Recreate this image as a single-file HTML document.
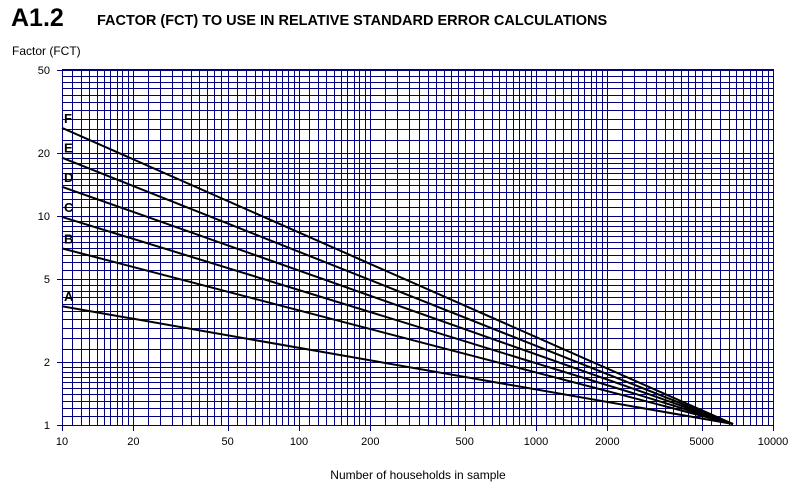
<!DOCTYPE html>
<html><head><meta charset="utf-8"><style>
html,body{margin:0;padding:0;background:#fff;width:802px;height:496px;overflow:hidden}
svg{display:block;font-family:"Liberation Sans",Arial,sans-serif}
</style></head><body>
<svg id="s" width="802" height="496" xmlns="http://www.w3.org/2000/svg">
<text x="11" y="26" font-size="25" font-weight="bold">A1.2</text>
<text x="97" y="25" font-size="14.5" font-weight="bold">FACTOR (FCT) TO USE IN RELATIVE STANDARD ERROR CALCULATIONS</text>
<text x="12" y="55" font-size="12">Factor (FCT)</text>
<text x="418" y="479" font-size="12" text-anchor="middle">Number of households in sample</text>
<g id="g"></g>
</svg>
<script>
var X0=62,XD=237,Y0=425,YD=209;
function px(v){return X0+XD*Math.log10(v/10);}
function py(v){return Y0-YD*Math.log10(v);}
function mult(){var a=[];for(var i=10;i<20;i++)a.push(i/10);for(var i=0;i<10;i++)a.push(2+0.3*i);for(var i=0;i<10;i++)a.push(5+0.5*i);return a;}
var m=mult(),h='<g shape-rendering="crispEdges" stroke="#000080" stroke-width="1">';
for(var d=0;d<3;d++)m.forEach(function(k){var x=Math.round(px(10*Math.pow(10,d)*k))+0.5;h+='<line x1="'+x+'" y1="69" x2="'+x+'" y2="425"/>';});
h+='<line x1="773.5" y1="69" x2="773.5" y2="425"/>';
m.forEach(function(k){[1,10].forEach(function(d){var v=k*d;if(v>50)return;var y=Math.round(py(v))+0.5;h+='<line x1="62" y1="'+y+'" x2="773" y2="'+y+'"/>';});});
h+='<line x1="62" y1="69.5" x2="773" y2="69.5"/>';
h+='<line x1="62.5" y1="69" x2="62.5" y2="430"/>';
[[1,'1'],[2,'2'],[5,'5'],[10,'10'],[20,'20'],[50,'50']].forEach(function(t){var y=Math.round(py(t[0]))+0.5;h+='<line x1="57" y1="'+y+'" x2="62" y2="'+y+'"/>';});
[10,20,50,100,200,500,1000,2000,5000,10000].forEach(function(v){var x=Math.round(px(v))+0.5;h+='<line x1="'+x+'" y1="425" x2="'+x+'" y2="431"/>';});
h+='</g>';
[[1,'1'],[2,'2'],[5,'5'],[10,'10'],[20,'20'],[50,'50']].forEach(function(t){var y=py(t[0]);h+='<text x="50" y="'+(y+4)+'" font-size="11" text-anchor="end">'+t[1]+'</text>';});
[10,20,50,100,200,500,1000,2000,5000,10000].forEach(function(v){var x=px(v);h+='<text x="'+x+'" y="445" font-size="11" text-anchor="middle">'+v+'</text>';});
var L=[['F',26.4],['E',19.0],['D',13.8],['C',9.9],['B',7.0],['A',3.7]];
L.forEach(function(l){var y=py(l[1]);h+='<line x1="62" y1="'+y+'" x2="733" y2="424" stroke="#000" stroke-width="2"/><text x="64" y="'+(y-5)+'" font-size="13" font-weight="bold">'+l[0]+'</text>';});
document.getElementById('g').innerHTML=h;
</script>
</body></html>
